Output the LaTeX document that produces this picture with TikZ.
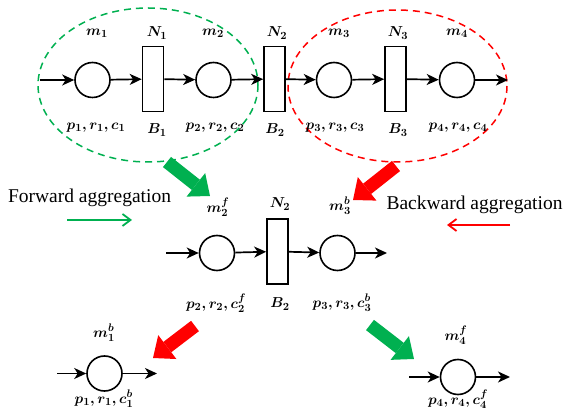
\documentclass[tikz,border=0pt]{standalone}
\usepackage{fontspec}
\setmainfont{Liberation Serif}
\usetikzlibrary{arrows.meta}
\definecolor{fgreen}{HTML}{00B050}
\definecolor{bred}{HTML}{FF0000}
\begin{document}
\begin{tikzpicture}[x=1pt,y=-1pt,
  place/.style={circle,draw,line width=1.6pt,minimum size=35pt,inner sep=0pt},
  trans/.style={rectangle,draw,line width=1.6pt,minimum width=21pt,minimum height=65pt,inner sep=0pt},
  flow/.style={line width=1.7pt,-{Stealth[length=12pt,width=11pt,inset=3.5pt]}},
  lbl/.style={font=\fontsize{15}{17}\selectfont\boldmath,inner sep=0pt},
  big/.style={line width=13pt,-{Triangle[length=18pt,width=30pt,line width=0pt]}},
  thin/.style={line width=1.8pt,-{Straight Barb[length=8pt,width=12pt,line width=1.8pt]}},
  group/.style={dashed,line width=1.5pt,dash pattern=on 7pt off 5pt},
  caption/.style={font=\fontsize{19.5}{22}\selectfont,inner sep=0pt}]
\useasboundingbox (0,0) rectangle (565,411);

% groups
\draw[group,fgreen] (148,85) ellipse [x radius=110,y radius=77];
\draw[group,bred] (397.5,86) ellipse [x radius=109.5,y radius=76];

% top row
\coordinate (s0) at (40,80);
\node[place] (m1) at (92.5,80) {};
\node[trans] (b1) at (153,79) {};
\node[place] (m2) at (213.5,80) {};
\node[trans] (b2) at (274.5,79) {};
\node[place] (m3) at (334,80) {};
\node[trans] (b3) at (395.5,79) {};
\node[place] (m4) at (457,80) {};
\coordinate (e0) at (508,80);
\draw[flow] (s0) -- (m1);
\draw[flow] (m1) -- (b1);
\draw[flow] (b1) -- (m2);
\draw[flow] (m2) -- (b2);
\draw[flow] (b2) -- (m3);
\draw[flow] (m3) -- (b3);
\draw[flow] (b3) -- (m4);
\draw[flow] (m4) -- (e0);

\node[lbl] (lm1) at (97,33) {$m_1$};
\node[lbl] (ln1) at (157,33) {$N_1$};
\node[lbl] (lm2) at (213,33) {$m_2$};
\node[lbl] (ln2) at (277,33) {$N_2$};
\node[lbl] (lm3) at (339,33) {$m_3$};
\node[lbl] (ln3) at (398,33) {$N_3$};
\node[lbl] (lm4) at (457,33) {$m_4$};
\node[lbl] (lp1) at (96,128) {$p_1, r_1, c_1$};
\node[lbl] (lb1) at (157,130) {$B_1$};
\node[lbl] (lp2) at (215,128) {$p_2, r_2, c_2$};
\node[lbl] (lb2) at (275,130) {$B_2$};
\node[lbl] (lp3) at (335,128) {$p_3, r_3, c_3$};
\node[lbl] (lb3) at (398,130) {$B_3$};
\node[lbl] (lp4) at (458,128) {$p_4, r_4, c_4$};

% big arrows
\coordinate (ga1) at (167,162); \coordinate (ga2) at (210,196);
\coordinate (ra1) at (396,166); \coordinate (ra2) at (353,200);
\coordinate (rb1) at (195,326); \coordinate (rb2) at (153,358);
\coordinate (gb1) at (370,325); \coordinate (gb2) at (414,359);
\draw[big,fgreen] (ga1) -- (ga2);
\draw[big,bred] (ra1) -- (ra2);
\draw[big,bred] (rb1) -- (rb2);
\draw[big,fgreen] (gb1) -- (gb2);

% captions
\node[caption] (fw) at (89.5,198) {Forward aggregation};
\node[caption] (bw) at (474.5,205) {Backward aggregation};
\coordinate (fa1) at (67,220); \coordinate (fa2) at (132,220);
\coordinate (ba1) at (510,225); \coordinate (ba2) at (447,225);
\draw[thin,fgreen] (fa1) -- (fa2);
\draw[thin,bred] (ba1) -- (ba2);

% middle row
\coordinate (s1) at (166,253);
\node[place] (n2f) at (217,253) {};
\node[trans] (bb2) at (277.5,251.5) {};
\node[place] (n3b) at (337.5,253) {};
\coordinate (e1) at (387,253);
\draw[flow] (s1) -- (n2f);
\draw[flow] (n2f) -- (bb2);
\draw[flow] (bb2) -- (n3b);
\draw[flow] (n3b) -- (e1);
\node[lbl] (lm2f) at (218,207) {$m_2^f$};
\node[lbl] (lnn2) at (280,204) {$N_2$};
\node[lbl] (lm3b) at (340,206) {$m_3^b$};
\node[lbl] (lp2f) at (216,303) {$p_2, r_2, c_2^f$};
\node[lbl] (lbb2) at (280,304) {$B_2$};
\node[lbl] (lp3b) at (342,303) {$p_3, r_3, c_3^b$};

% bottom left
\coordinate (s2) at (57,373.5);
\node[place] (m1b) at (104.5,373.5) {};
\coordinate (e2) at (157,373.5);
\draw[flow] (s2) -- (m1b);
\draw[flow] (m1b) -- (e2);
\node[lbl] (lm1b) at (104,333) {$m_1^b$};
\node[lbl] (lp1b) at (104,399) {$p_1, r_1, c_1^b$};

% bottom right
\coordinate (s3) at (409,377);
\node[place] (m4f) at (458,377) {};
\coordinate (e3) at (510,377);
\draw[flow] (s3) -- (m4f);
\draw[flow] (m4f) -- (e3);
\node[lbl] (lm4f) at (456,335) {$m_4^f$};
\node[lbl] (lp4f) at (458,399) {$p_4, r_4, c_4^f$};
\end{tikzpicture}
\end{document}
